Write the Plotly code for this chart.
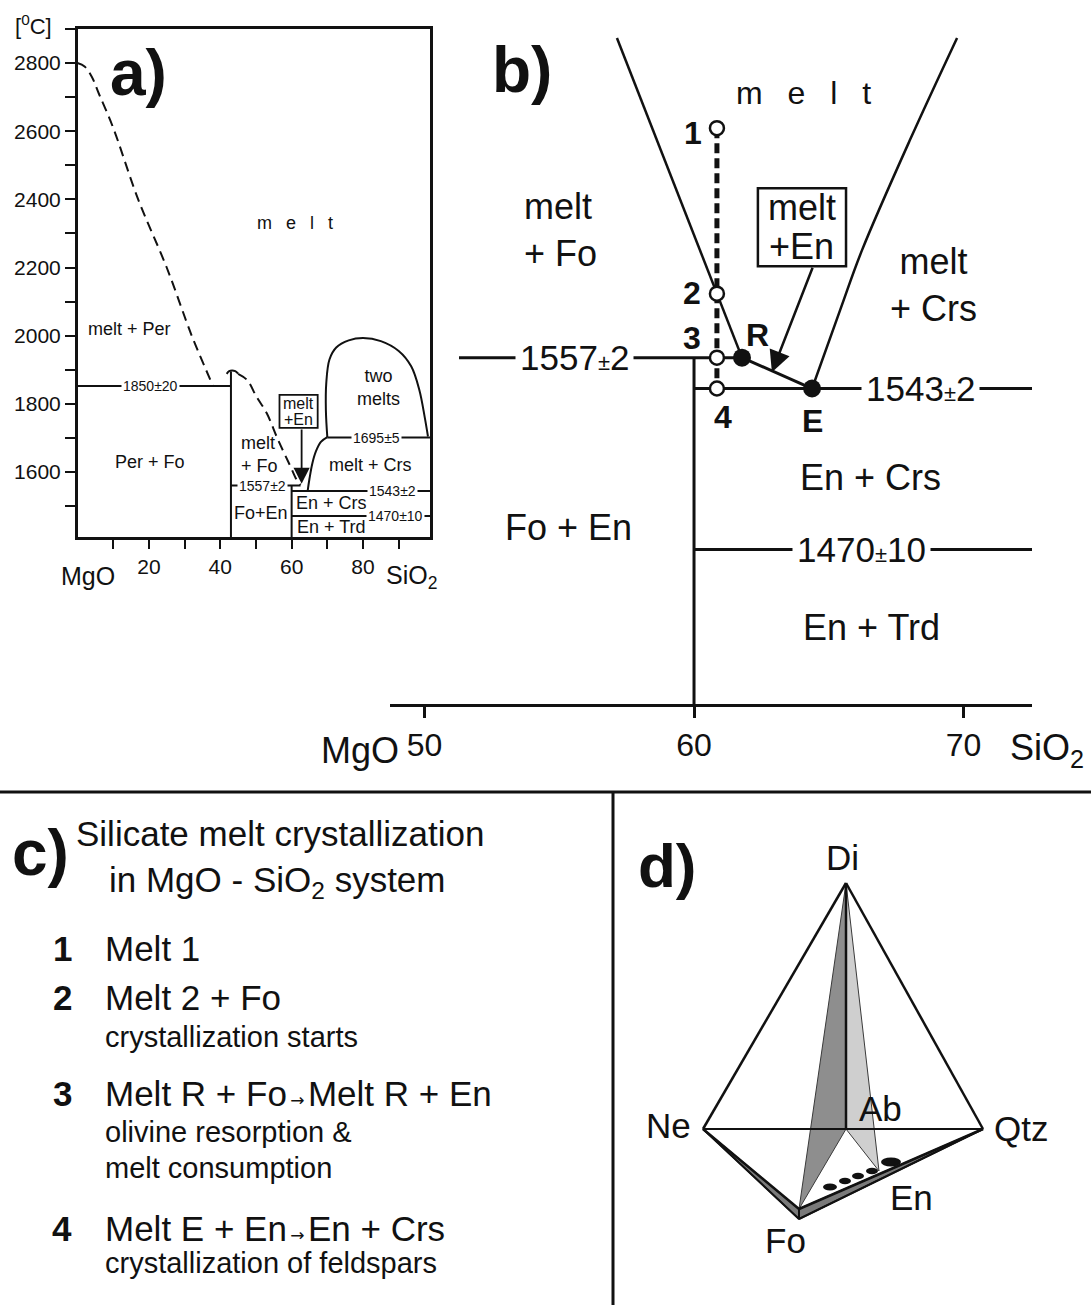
import plotly.graph_objects as go

W, H = 1091, 1305
FONT = "Liberation Sans, Arial, Helvetica, sans-serif"
INK = "#111111"

# ---------------- Panel a : MgO - SiO2 phase diagram (wt% SiO2, degC) ----------------
a_x_range = [0.06, 98.77]
a_T_range = [1409, 2900]
a_x_ticks = [20, 40, 60, 80]
a_x_minor_step = 10
a_y_ticks = [1600, 1800, 2000, 2200, 2400, 2600, 2800]
a_y_minor_start, a_y_minor_step = 1500, 100

a_per_liq_x = [0, 2, 4, 6, 10, 17, 25, 32, 36, 38]
a_per_liq_T = [2800, 2790, 2760, 2710, 2610, 2400, 2200, 2000, 1900, 1852]
a_fo_cap_x = [41.8, 42.5, 43.3, 44.2, 45.0]
a_fo_cap_T = [1888, 1896, 1898, 1896, 1889]
a_fo_liq_x = [45.0, 47.5, 50.2, 53.0, 56.2, 59.5, 61.5, 62.5]
a_fo_liq_T = [1888, 1870, 1820, 1773, 1694, 1620, 1575, 1562]
a_crs_liq_x = [64.5, 65.0, 65.8, 66.8, 68.2, 70.0]
a_crs_liq_T = [1545, 1580, 1625, 1660, 1688, 1702]
a_dome_x = [70.0, 69.6, 69.7, 70.6, 72.5, 76.0, 80.0, 85.0, 90.0, 93.5, 95.8, 97.3, 98.2]
a_dome_T = [1702, 1780, 1860, 1930, 1965, 1986, 1993, 1984, 1955, 1910, 1840, 1760, 1704]

a_iso_T = [1852, 1560, 1544, 1471, 1701]
a_iso_x0 = [0.06, 43, 60, 60, 70]
a_iso_x1 = [43, 62.5, 98.77, 98.77, 98.77]
a_iso_labels = ["1850±20", "1557±2", "1543±2", "1470±10", "1695±5"]
a_iso_label_x = [20.4, 51.7, 88.4, 89.0, 83.9]
a_fo_comp, a_fo_top = 43, 1895
a_en_comp, a_en_top = 60, 1560

a_fields = ["m\u2002 e\u2002 l\u2002 t", "melt + Per", "Per + Fo", "Fo+En", "two<br>melts",
            "melt + Crs", "En + Crs", "En + Trd"]
a_fields_x = [61.0, 14.7, 20.3, 51.4, 84.2, 82.2, 71.3, 71.3]
a_fields_T = [2331, 2020, 1629, 1480, 1849, 1620, 1509, 1439]

a_box_x = [56.6, 67.3]
a_box_T = [1729, 1826]
a_arrow_x, a_arrow_T = 62.8, 1565

# ---------------- Panel b : enlarged part of the diagram ----------------
b_x_range = [48.72, 72.54]
b_T_range = [1400, 1719.1]
b_x_ticks = [50, 60, 70]
b_fo_liq_x = [57.14, 61.78]
b_fo_liq_T = [1701.9, 1557]
b_crs_liq_x = [69.76, 68.01, 66.23, 65.42, 64.38]
b_crs_liq_T = [1701.9, 1655.6, 1605.6, 1578.5, 1543]
b_path_x = [60.85, 60.85, 60.85, 60.85]
b_path_T = [1661, 1586, 1557, 1543]
b_path_labels = ["1", "2", "3", "4"]
b_path_label_x = [59.96, 59.93, 59.93, 61.08]
b_path_label_T = [1658.8, 1586.2, 1565.8, 1530]
b_RE_x = [61.78, 64.38]
b_RE_T = [1557, 1543]
b_RE_labels = ["R", "E"]
b_RE_label_x = [62.34, 64.38]
b_RE_label_T = [1567.1, 1528.5]
b_iso_T = [1557, 1543, 1470]
b_iso_x0 = [51.28, 60, 60]
b_iso_x1 = [61.78, 72.54, 72.54]
b_iso_num = ["1557", "1543", "1470"]
b_iso_err = ["2", "2", "10"]
b_iso_label_x = [55.55, 68.39, 66.23]
b_en_comp = 60
b_fields = ["m\u2002 e\u2002 l\u2002 t", "Fo + En", "En + Crs", "En + Trd"]
b_fields_x = [64.08, 55.36, 66.53, 66.60]
b_fields_T = [1676.9, 1480.1, 1502.8, 1434.8]
b_box_x = [62.37, 65.64]
b_box_T = [1598.4, 1633.8]
b_arrow_tail = (64.42, 1598.4)
b_arrow_tip = (62.89, 1550.4)

# ---------------- Panel d : tetrahedron (schematic drawing units) ----------------
d_names = ["Di", "Ne", "Qtz", "Ab", "Fo", "En"]
d_x = [846, 703, 983, 846, 799, 879]
d_y = [883, 1129, 1129, 1129, 1209, 1171]
d_fo_base_y = 1219
d_label_x = [842, 668, 1021, 880, 785, 911]
d_label_y = [857, 1125, 1128, 1108, 1240, 1197]
d_blob_x = [830, 845, 858, 872, 891]
d_blob_y = [1187, 1181, 1176, 1171, 1162]
d_blob_rx = [7, 6, 6, 6, 10]
d_blob_ry = [3.5, 3.2, 3.2, 3.2, 4.5]

# ---------------- Panel c : text ----------------
ARROW = "<span style='font-family:DejaVu Sans;font-size:17px'>\u2009\u2192\u2009</span>"
c_title = ["Silicate melt crystallization", "in MgO - SiO<sub>2</sub> system"]
c_steps = ["1", "2", "3", "4"]
c_step_main = ["Melt 1", "Melt 2 + Fo",
               "Melt R + Fo" + ARROW + "Melt R + En",
               "Melt E + En" + ARROW + "En + Crs"]
c_step_notes = [[], ["crystallization starts"], ["olivine resorption &", "melt consumption"],
                ["crystallization of feldspars"]]

fig = go.Figure()


def X(p):
    return p / W


def Y(p):
    return 1 - p / H


def line(xs, ys, ax, width=2.5, dash=None, shape="linear", color=INK):
    fig.add_trace(go.Scatter(x=xs, y=ys, xaxis="x" + ax, yaxis="y" + ax, mode="lines",
                             line=dict(color=color, width=width, dash=dash, shape=shape),
                             showlegend=False, hoverinfo="skip"))


anns = []


def text(t, x, y, size, ref="paper", bold=False, xanchor="center", yanchor="middle",
         align="center", bg=None, pad=1):
    if ref == "paper":
        xr, yr, xx, yy = "paper", "paper", X(x), Y(y)
    else:
        xr, yr, xx, yy = "x" + ref, "y" + ref, x, y
    anns.append(dict(text=("<b>%s</b>" % t) if bold else t, x=xx, y=yy, xref=xr, yref=yr,
                     showarrow=False, xanchor=xanchor, yanchor=yanchor, align=align,
                     font=dict(family=FONT, size=size, color=INK),
                     bgcolor=bg, borderpad=pad))


# ---- Panel a traces ----
line(a_per_liq_x, a_per_liq_T, "", width=2, dash="10px,6px", shape="spline")
line(a_fo_liq_x, a_fo_liq_T, "", width=2, dash="10px,6px", shape="spline")
line(a_fo_cap_x, a_fo_cap_T, "", width=2, shape="spline")
line(a_crs_liq_x, a_crs_liq_T, "", width=2, shape="spline")
line(a_dome_x, a_dome_T, "", width=2, shape="spline")
for x0, x1, T in zip(a_iso_x0, a_iso_x1, a_iso_T):
    line([x0, x1], [T, T], "", width=2)
line([a_fo_comp, a_fo_comp], [a_T_range[0], a_fo_top], "", width=2)
line([a_en_comp, a_en_comp], [a_T_range[0], a_en_top], "", width=2)
for lab, lx, T in zip(a_iso_labels, a_iso_label_x, a_iso_T):
    text(lab, lx, T, 14, ref="", bg="white", pad=1)
for lab, lx, T in zip(a_fields, a_fields_x, a_fields_T):
    text(lab, lx, T, 18, ref="")
text("melt<br>+ Fo", 45.2, 1652, 18, ref="", xanchor="left", align="left")
text("melt", sum(a_box_x) / 2, 1800, 16, ref="")
text("+En", sum(a_box_x) / 2, 1753, 16, ref="")
anns.append(dict(x=a_arrow_x, y=a_arrow_T, ax=a_arrow_x, ay=a_box_T[0], xref="x", yref="y",
                 axref="x", ayref="y", text="", showarrow=True, arrowhead=2, arrowsize=1.8,
                 arrowwidth=1.8, arrowcolor=INK))

# ---- Panel b traces ----
line(b_fo_liq_x, b_fo_liq_T, "2", width=2.5)
line(b_crs_liq_x, b_crs_liq_T, "2", width=2.5, shape="spline")
for x0, x1, T in zip(b_iso_x0, b_iso_x1, b_iso_T):
    line([x0, x1], [T, T], "2", width=3)
line([b_en_comp, b_en_comp], [b_T_range[0], b_iso_T[0]], "2", width=3)
line(b_RE_x, b_RE_T, "2", width=3)
line(b_path_x, b_path_T, "2", width=5, dash="10px,5px")
fig.add_trace(go.Scatter(x=b_path_x, y=b_path_T, xaxis="x2", yaxis="y2", mode="markers",
                         marker=dict(symbol="circle", size=14, color="white",
                                     line=dict(color=INK, width=2.5)),
                         showlegend=False, hoverinfo="skip"))
fig.add_trace(go.Scatter(x=b_RE_x, y=b_RE_T, xaxis="x2", yaxis="y2", mode="markers",
                         marker=dict(symbol="circle", size=18, color=INK),
                         showlegend=False, hoverinfo="skip"))
for lab, lx, T in zip(b_path_labels + b_RE_labels, b_path_label_x + b_RE_label_x,
                      b_path_label_T + b_RE_label_T):
    text(lab, lx, T, 32, ref="2", bold=True)
for num, err, lx, T in zip(b_iso_num, b_iso_err, b_iso_label_x, b_iso_T):
    text("%s<span style='font-size:22px'>±</span>%s" % (num, err), lx, T, 35, ref="2",
         bg="white", pad=4)
for lab, lx, T in zip(b_fields, b_fields_x, b_fields_T):
    text(lab, lx, T, 36 if "m\u2002" not in lab else 32, ref="2")
text("melt<br>+ Fo", 53.62, 1614.7, 36, ref="2", xanchor="left", align="left")
text("melt<br>+ Crs", 68.87, 1589.7, 36, ref="2")
text("melt", sum(b_box_x) / 2, 1625.0, 36, ref="2")
text("+En", sum(b_box_x) / 2, 1607.5, 36, ref="2")
anns.append(dict(x=b_arrow_tip[0], y=b_arrow_tip[1], ax=b_arrow_tail[0], ay=b_arrow_tail[1],
                 xref="x2", yref="y2", axref="x2", ayref="y2", text="", showarrow=True,
                 arrowhead=2, arrowsize=1.7, arrowwidth=2.5, arrowcolor=INK))

# ---- Panel d traces ----
V = {n: (x, y) for n, x, y in zip(d_names, d_x, d_y)}
fo_base = (V["Fo"][0], d_fo_base_y)


def poly(pts, fill, lw=1, lc="#444444"):
    xs = [p[0] for p in pts] + [pts[0][0]]
    ys = [p[1] for p in pts] + [pts[0][1]]
    fig.add_trace(go.Scatter(x=xs, y=ys, xaxis="x3", yaxis="y3", mode="lines", fill="toself",
                             fillcolor=fill, line=dict(color=lc, width=lw),
                             showlegend=False, hoverinfo="skip"))


poly([V["Ne"], fo_base, V["Qtz"], V["Fo"]], "#7a7a7a", lw=1.5, lc=INK)
poly([V["Di"], V["Fo"], V["Ab"]], "#8e8e8e", lw=1, lc="#3a3a3a")
poly([V["Di"], V["Ab"], V["En"]], "#cfcfcf", lw=1, lc="#3a3a3a")


def seg(a, b, width=2.5):
    line([a[0], b[0]], [a[1], b[1]], "3", width=width)


seg(V["Ne"], V["Di"])
seg(V["Di"], V["Qtz"])
seg(V["Ne"], V["Qtz"], 2)
seg(V["Di"], V["Ab"], 2.5)
seg(V["Ne"], V["Fo"], 2.5)
seg(V["Fo"], V["Qtz"], 2.5)
seg(V["Ne"], fo_base, 2)
seg(fo_base, V["Qtz"], 2)
seg(V["Fo"], fo_base, 2)
for n, lx, ly in zip(d_names, d_label_x, d_label_y):
    text(n, lx, ly, 35, ref="3")

shapes = []
for bx, by, rx, ry in zip(d_blob_x, d_blob_y, d_blob_rx, d_blob_ry):
    shapes.append(dict(type="circle", xref="x3", yref="y3", x0=bx - rx, x1=bx + rx,
                       y0=by - ry, y1=by + ry, fillcolor=INK, line=dict(width=0)))

shapes.append(dict(type="rect", xref="x", yref="y", x0=a_box_x[0], x1=a_box_x[1],
                   y0=a_box_T[0], y1=a_box_T[1], fillcolor="white",
                   line=dict(color=INK, width=1.8), layer="above"))
shapes.append(dict(type="rect", xref="x2", yref="y2", x0=b_box_x[0], x1=b_box_x[1],
                   y0=b_box_T[0], y1=b_box_T[1], fillcolor="white",
                   line=dict(color=INK, width=2.5), layer="above"))
shapes.append(dict(type="line", xref="paper", yref="paper", x0=0, x1=1, y0=Y(792), y1=Y(792),
                   line=dict(color=INK, width=3)))
shapes.append(dict(type="line", xref="paper", yref="paper", x0=X(613), x1=X(613), y0=0,
                   y1=Y(792), line=dict(color=INK, width=3)))

# ---- panel letters and axis titles ----
text("a)", 138, 73, 64, bold=True)
text("b)", 522, 70, 64, bold=True)
text("c)", 40, 853, 64, bold=True)
text("d)", 667, 865, 62, bold=True)
text("[<sup>0</sup>C]", 33, 25, 22)
text("MgO", 88, 576, 25)
text("SiO<sub>2</sub>", 411, 577, 25)
text("MgO", 360, 750, 36)
text("SiO<sub>2</sub>", 1047, 750, 36)

# ---- Panel c text ----
text(c_title[0], 280, 833, 35)
text(c_title[1], 277, 882, 35)
c_main_y = [948, 997, 1093, 1228]
c_note_y = [[], [1037], [1132, 1168], [1263]]
for num, main, notes, my, ny in zip(c_steps, c_step_main, c_step_notes, c_main_y, c_note_y):
    text(num, 62, my, 35, bold=True)
    text(main, 103, my, 35, xanchor="left")
    for nt, yy in zip(notes, ny):
        text(nt, 103, yy, 29, xanchor="left")

axis_common = dict(showgrid=False, zeroline=False, color=INK,
                   tickfont=dict(family=FONT, color=INK))

fig.update_layout(
    width=W, height=H, margin=dict(l=0, r=0, t=0, b=0),
    paper_bgcolor="white", plot_bgcolor="rgba(0,0,0,0)",
    font=dict(family=FONT, color=INK),
    showlegend=False,
    annotations=anns, shapes=shapes,
    xaxis=dict(axis_common, domain=[X(77.7), X(430)], range=a_x_range, anchor="y",
               showline=True, linewidth=2.5, linecolor=INK, mirror=True,
               ticks="outside", ticklen=9, tickwidth=2, tickcolor=INK,
               tickvals=a_x_ticks, ticktext=[str(v) for v in a_x_ticks], tickfont_size=21,
               minor=dict(ticks="outside", tick0=0, dtick=a_x_minor_step, ticklen=9,
                          tickwidth=2, tickcolor=INK, showgrid=False)),
    yaxis=dict(axis_common, domain=[Y(537), Y(29)], range=a_T_range, anchor="x",
               showline=True, linewidth=2.5, linecolor=INK, mirror=True,
               ticks="outside", ticklen=10, tickwidth=2, tickcolor=INK,
               tickvals=a_y_ticks, ticktext=[str(v) for v in a_y_ticks], tickfont_size=21,
               minor=dict(ticks="outside", tick0=a_y_minor_start, dtick=a_y_minor_step,
                          ticklen=10, tickwidth=2, tickcolor=INK, showgrid=False)),
    xaxis2=dict(axis_common, domain=[X(390), X(1032)], range=b_x_range, anchor="y2",
                showline=True, linewidth=3, linecolor=INK,
                ticks="outside", ticklen=11, tickwidth=3, tickcolor=INK,
                tickvals=b_x_ticks, ticktext=[str(v) for v in b_x_ticks], tickfont_size=32),
    yaxis2=dict(domain=[Y(704), 1], range=b_T_range, anchor="x2", visible=False),
    xaxis3=dict(domain=[X(613), 1], range=[613, 1091], anchor="y3", visible=False),
    yaxis3=dict(domain=[0, Y(792)], range=[1305, 792], anchor="x3", visible=False),
)

fig.write_html("out.html")
